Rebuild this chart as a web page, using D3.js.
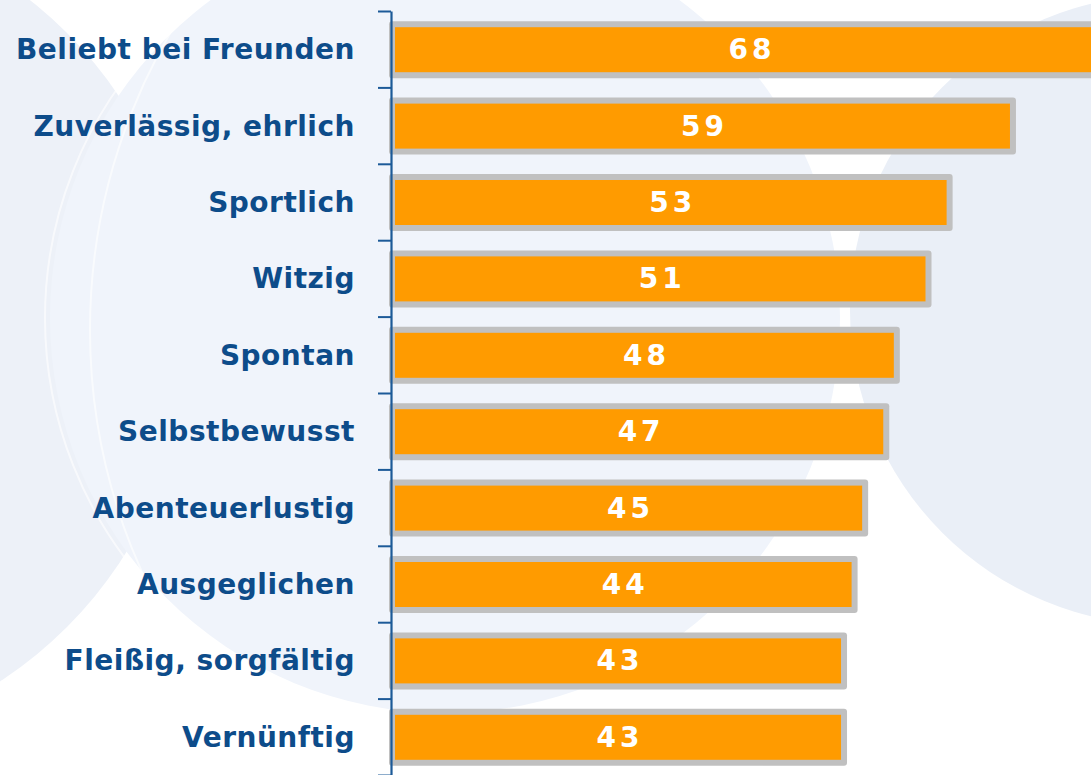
<!DOCTYPE html>
<html>
<head>
<meta charset="utf-8">
<script src="https://cdn.jsdelivr.net/npm/d3@7"></script>
<style>
  html, body { margin: 0; padding: 0; background: #fff; overflow: hidden; }
  svg { display: block; }
</style>
</head>
<body>
<div id="chart"></div>
<script>
// chart values
const categories = [
  "Beliebt bei Freunden", "Zuverlässig, ehrlich", "Sportlich", "Witzig", "Spontan",
  "Selbstbewusst", "Abenteuerlustig", "Ausgeglichen", "Fleißig, sorgfältig", "Vernünftig"
];
const values = [68, 59, 53, 51, 48, 47, 45, 44, 43, 43];

const W = 1091, H = 775;

const svg = d3.select("#chart")
  .append("svg")
  .attr("width", W)
  .attr("height", H);

// =========================
// BACKGROUND
// =========================
const bg = svg.append("g");
bg.append("rect").attr("width", W).attr("height", H).attr("fill", "#ffffff");

const circles = [
  { cx: -230, cy: 330, r: 420, fill: "#edf1f8" },
  { cx: 445, cy: 318, r: 395, fill: "#f0f4fb" },
  { cx: 1165, cy: 310, r: 315, fill: "#eaeff7" }
];
bg.selectAll("circle.fill")
  .data(circles)
  .enter()
  .append("circle")
  .attr("class", "fill")
  .attr("cx", d => d.cx)
  .attr("cy", d => d.cy)
  .attr("r", d => d.r)
  .attr("fill", d => d.fill);

// thin white arcs
const arcs = [
  { cx: 445, cy: 318, r: 400 },
  { cx: 1165, cy: 310, r: 321 },
  { cx: 680, cy: 330, r: 590 }
];
bg.selectAll("circle.arc")
  .data(arcs)
  .enter()
  .append("circle")
  .attr("class", "arc")
  .attr("cx", d => d.cx)
  .attr("cy", d => d.cy)
  .attr("r", d => d.r)
  .attr("fill", "none")
  .attr("stroke", "#ffffff")
  .attr("stroke-width", 2)
  .attr("opacity", 0.6);

// =========================
// SCALES
// =========================
const x = d3.scaleLinear()
  .domain([0, 68])
  .range([387, 1105]);

const y = d3.scaleBand()
  .domain(categories)
  .range([11, 775])
  .padding(0);

const bounds = d3.scaleLinear()
  .domain([0, categories.length])
  .range([11, 775]);

const barH = 45;
const frame = 6;
const axisX = 391;

// =========================
// BARS
// =========================
const bars = svg.append("g")
  .selectAll("g.bar")
  .data(categories)
  .enter()
  .append("g")
  .attr("class", "bar");

bars.append("rect")
  .attr("x", axisX - 2)
  .attr("y", d => y(d) + y.bandwidth() / 2 + 0.5 - barH / 2 - frame)
  .attr("width", (d, i) => x(values[i]) + frame - (axisX - 2))
  .attr("height", barH + frame * 2)
  .attr("rx", 3)
  .attr("fill", "#c0c0c0");

bars.append("rect")
  .attr("x", axisX + 4)
  .attr("y", d => y(d) + y.bandwidth() / 2 + 0.5 - barH / 2)
  .attr("width", (d, i) => x(values[i]) - (axisX + 4))
  .attr("height", barH)
  .attr("fill", "#ff9b00");

bars.append("text")
  .attr("x", (d, i) => (axisX + 4 + x(values[i])) / 2 + 2)
  .attr("y", d => y(d) + y.bandwidth() / 2 + 10)
  .attr("text-anchor", "middle")
  .style("font-family", "'DejaVu Sans', Verdana, sans-serif")
  .style("font-weight", "bold")
  .style("font-size", "28px")
  .style("letter-spacing", "4px")
  .attr("fill", "#ffffff")
  .text((d, i) => values[i]);

// =========================
// AXIS
// =========================
const axis = svg.append("g")
  .attr("transform", `translate(${axisX},0)`)
  .call(d3.axisLeft(bounds)
    .tickValues(d3.range(categories.length + 1))
    .tickSize(13)
    .tickSizeOuter(0)
    .tickFormat(""));

axis.select(".domain")
  .attr("stroke", "#1c5a98")
  .attr("stroke-width", 2.2);
axis.selectAll(".tick line")
  .attr("stroke", "#1c5a98")
  .attr("stroke-width", 2);

// =========================
// CATEGORY LABELS
// =========================
svg.append("g")
  .selectAll("text")
  .data(categories)
  .enter()
  .append("text")
  .attr("x", 355)
  .attr("y", d => y(d) + y.bandwidth() / 2 + 10)
  .attr("text-anchor", "end")
  .style("font-family", "'DejaVu Sans', Verdana, sans-serif")
  .style("font-weight", "bold")
  .style("font-size", "28px")
  .style("letter-spacing", "0.5px")
  .attr("fill", "#0d4c8a")
  .text(d => d);
</script>
</body>
</html>
